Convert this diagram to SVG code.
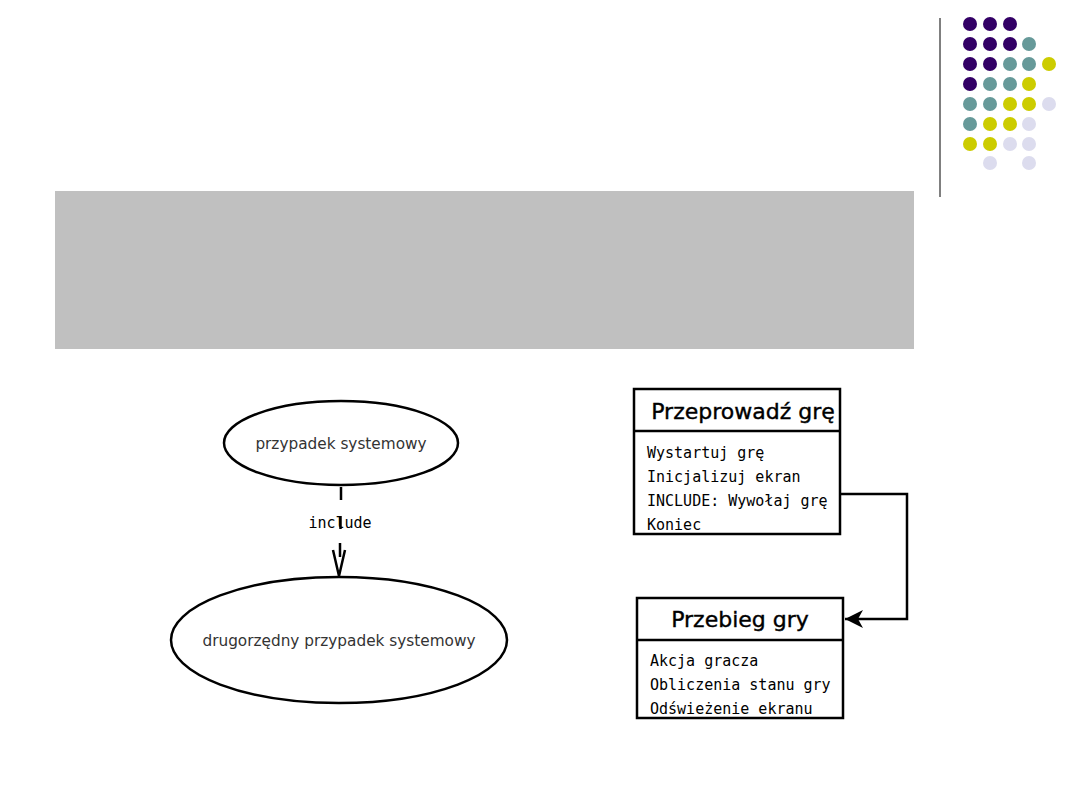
<svg xmlns="http://www.w3.org/2000/svg" width="1080" height="810" viewBox="0 0 1080 810">
<style>
.p{fill:#330066}.t{fill:#669999}.y{fill:#cccc00}.l{fill:#dcdcee}
.shape{fill:#fff;stroke:#000;stroke-width:2.5}
.uc{font-family:"DejaVu Sans",sans-serif;font-size:15.3px;fill:#333;text-anchor:middle}
.mono{font-family:"DejaVu Sans Mono",monospace;font-size:15px;fill:#000}
.title{font-family:"DejaVu Sans",sans-serif;font-size:22px;fill:#000;stroke:#000;stroke-width:0.4;text-anchor:middle}
</style>
<defs>
<marker id="fill" markerWidth="18" markerHeight="18" refX="18" refY="9" orient="auto" markerUnits="userSpaceOnUse" viewBox="0 0 18 18">
<path d="M0,0 L18,9 L0,18 L5,9 Z" fill="#000"/>
</marker>
<clipPath id="c1"><rect x="634" y="431" width="206" height="103"/></clipPath>
<clipPath id="c2"><rect x="637" y="640" width="206" height="78"/></clipPath>
</defs>
<rect width="1080" height="810" fill="#fff"/>
<g id="decor">
<line x1="940" y1="18" x2="940" y2="197" stroke="#000" stroke-width="1"/>
<circle class="p" cx="970" cy="24" r="7"/><circle class="p" cx="990" cy="24" r="7"/><circle class="p" cx="1010" cy="24" r="7"/>
<circle class="p" cx="970" cy="44" r="7"/><circle class="p" cx="990" cy="44" r="7"/><circle class="p" cx="1010" cy="44" r="7"/><circle class="t" cx="1029" cy="44" r="7"/>
<circle class="p" cx="970" cy="64" r="7"/><circle class="p" cx="990" cy="64" r="7"/><circle class="t" cx="1010" cy="64" r="7"/><circle class="t" cx="1029" cy="64" r="7"/><circle class="y" cx="1049" cy="64" r="7"/>
<circle class="p" cx="970" cy="84" r="7"/><circle class="t" cx="990" cy="84" r="7"/><circle class="t" cx="1010" cy="84" r="7"/><circle class="y" cx="1029" cy="84" r="7"/>
<circle class="t" cx="970" cy="104" r="7"/><circle class="t" cx="990" cy="104" r="7"/><circle class="y" cx="1010" cy="104" r="7"/><circle class="y" cx="1029" cy="104" r="7"/><circle class="l" cx="1049" cy="104" r="7"/>
<circle class="t" cx="970" cy="124" r="7"/><circle class="y" cx="990" cy="124" r="7"/><circle class="y" cx="1010" cy="124" r="7"/><circle class="l" cx="1029" cy="124" r="7"/>
<circle class="y" cx="970" cy="144" r="7"/><circle class="y" cx="990" cy="144" r="7"/><circle class="l" cx="1010" cy="144" r="7"/><circle class="l" cx="1029" cy="144" r="7"/>
<circle class="l" cx="990" cy="163" r="7"/><circle class="l" cx="1029" cy="163" r="7"/>
</g>
<rect id="banner" x="55" y="191" width="859" height="158" fill="#c0c0c0"/>
<g id="connectors">
<path d="M341,487 V500 M340.5,516 V529 M340,543 V557" fill="none" stroke="#000" stroke-width="2.5"/>
<path d="M333,550 L339,576 L345,550" fill="none" stroke="#000" stroke-width="2.5"/>
<text class="mono" x="340" y="528" text-anchor="middle">include</text>
<polyline points="840,494 907,494 907,619 845,619" fill="none" stroke="#000" stroke-width="2.5" marker-end="url(#fill)"/>
</g>
<g id="uc1">
<ellipse class="shape" cx="341" cy="443" rx="117" ry="42"/>
<text class="uc" x="341" y="449">przypadek systemowy</text>
</g>
<g id="uc2">
<ellipse class="shape" cx="339" cy="640" rx="168" ry="63"/>
<text class="uc" x="339" y="646">drugorzędny przypadek systemowy</text>
</g>
<g id="box1">
<rect class="shape" x="634" y="389" width="206" height="145"/>
<line x1="634" y1="431" x2="840" y2="431" stroke="#000" stroke-width="2.5"/>
<text class="title" x="743" y="419">Przeprowadź grę</text>
<g clip-path="url(#c1)">
<text class="mono" x="647" y="458">Wystartuj grę</text>
<text class="mono" x="647" y="482">Inicjalizuj ekran</text>
<text class="mono" x="647" y="506">INCLUDE: Wywołaj grę</text>
<text class="mono" x="647" y="530">Koniec</text>
</g>
</g>
<g id="box2">
<rect class="shape" x="637" y="598" width="206" height="120"/>
<line x1="637" y1="640" x2="843" y2="640" stroke="#000" stroke-width="2.5"/>
<text class="title" x="740" y="627">Przebieg gry</text>
<g clip-path="url(#c2)">
<text class="mono" x="650" y="666">Akcja gracza</text>
<text class="mono" x="650" y="690">Obliczenia stanu gry</text>
<text class="mono" x="650" y="714">Odświeżenie ekranu</text>
</g>
</g>
</svg>
